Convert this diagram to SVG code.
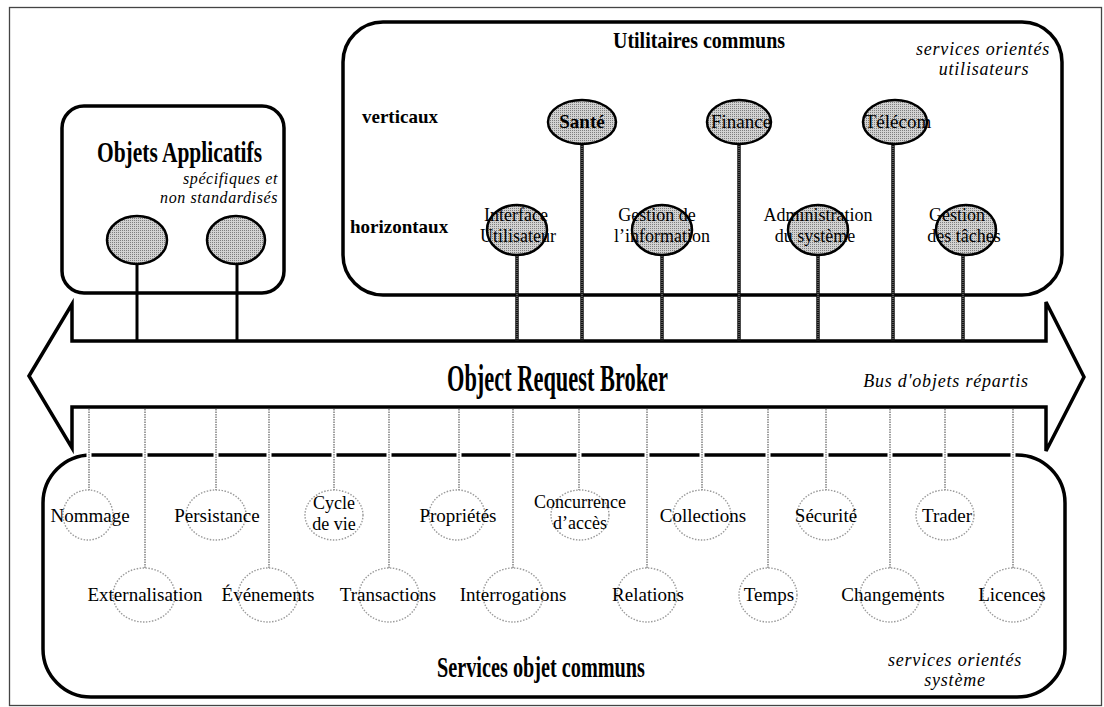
<svg xmlns="http://www.w3.org/2000/svg" width="1104" height="707" viewBox="0 0 1104 707">
  <defs>
    <!-- fine stipple used for the grey object bubbles -->
    <pattern id="halftone" patternUnits="userSpaceOnUse" width="2" height="2">
      <rect width="2" height="2" fill="#d2d2d2"/>
      <rect width="1" height="1" fill="#7e7e7e"/>
    </pattern>
  </defs>
  <style>
    .frame { fill: none; stroke: #444; stroke-width: 1.3; }
    .box { fill: none; stroke: #000; stroke-width: 3.5; }
    .bus { fill: #fff; stroke: #000; stroke-width: 3.5; stroke-linejoin: miter; }
    .title { font-family: "Liberation Serif", serif; font-weight: bold; fill: #000; }
    .it { font-family: "Liberation Serif", serif; font-style: italic; font-size: 18px; letter-spacing: 0.8px; fill: #000; }
    .it-sm { font-family: "Liberation Serif", serif; font-style: italic; font-size: 16px; letter-spacing: 0.6px; fill: #000; }
    .side { font-family: "Liberation Serif", serif; font-weight: bold; font-size: 19px; fill: #000; }
    .lbl { font-family: "Liberation Serif", serif; font-size: 19px; text-anchor: middle; fill: #000; }
    .lbl2 { font-family: "Liberation Serif", serif; font-size: 18px; text-anchor: middle; fill: #000; }
    .hv { fill: url(#halftone); stroke: #000; stroke-width: 2.5; }
    .sv { fill: #fff; stroke: #9a9a9a; stroke-width: 1.4; stroke-dasharray: 1.5 1.5; }
    .stem { stroke: #111; stroke-width: 3.5; }
    .stem-core { stroke: #9a9a9a; stroke-width: 1; stroke-dasharray: 1 1; }
    .solid { stroke: #000; stroke-width: 3; }
    .halo { stroke: #fff; stroke-width: 5; }
    .dotted { stroke: #a0a0a0; stroke-width: 2; stroke-dasharray: 1.5 1; }
  </style>

  <rect class="frame" x="9.5" y="7.5" width="1092" height="698"/>

  <!-- containers -->
  <g id="objets-applicatifs">
    <rect class="box" x="62" y="106" width="222" height="187" rx="22"/>
    <text class="title" x="97" y="162" font-size="30" textLength="165" lengthAdjust="spacingAndGlyphs">Objets Applicatifs</text>
    <text class="it-sm" x="278" y="184" text-anchor="end">spécifiques et</text>
    <text class="it-sm" x="278" y="203" text-anchor="end">non standardisés</text>
  </g>

  <g id="utilitaires-communs">
    <rect class="box" x="343" y="22" width="719" height="273" rx="40"/>
    <text class="title" x="613" y="48" font-size="24" textLength="172" lengthAdjust="spacingAndGlyphs">Utilitaires communs</text>
    <text class="it" x="983" y="55" text-anchor="middle">services orientés</text>
    <text class="it" x="984" y="75" text-anchor="middle">utilisateurs</text>
    <text class="side" x="362" y="123">verticaux</text>
    <text class="side" x="350" y="233">horizontaux</text>
  </g>

  <g id="services-objet-communs">
    <rect class="box" x="43" y="455" width="1022" height="242" rx="48"/>
    <text class="title" x="437" y="677" font-size="30" textLength="208" lengthAdjust="spacingAndGlyphs">Services objet communs</text>
    <text class="it" x="955" y="666" text-anchor="middle">services orientés</text>
    <text class="it" x="955" y="686" text-anchor="middle">système</text>
  </g>

  <g id="object-request-broker">
    <path class="bus" d="M29,376 L72,304 L72,341 L1046,341 L1046,302 L1084,377 L1046,451 L1046,407 L72,407 L72,448 Z"/>
    <text class="title" x="447" y="391" font-size="38" textLength="221" lengthAdjust="spacingAndGlyphs">Object Request Broker</text>
    <text class="it" x="946" y="387" text-anchor="middle">Bus d'objets répartis</text>
  </g>

  <!-- connectors to the bus -->
  <g id="connectors">
    <!-- application objects -->
    <line class="solid" x1="137" y1="240" x2="137" y2="341"/>
    <line class="solid" x1="237" y1="240" x2="237" y2="341"/>
    <!-- vertical and horizontal facilities -->
    <g>
      <line class="stem" x1="582" y1="122" x2="582" y2="341"/>
      <line class="stem" x1="739" y1="122" x2="739" y2="341"/>
      <line class="stem" x1="893" y1="122" x2="893" y2="341"/>
      <line class="stem" x1="517" y1="230" x2="517" y2="341"/>
      <line class="stem" x1="662" y1="230" x2="662" y2="341"/>
      <line class="stem" x1="818" y1="230" x2="818" y2="341"/>
      <line class="stem" x1="963" y1="230" x2="963" y2="341"/>
      <line class="stem-core" x1="582" y1="122" x2="582" y2="340"/>
      <line class="stem-core" x1="739" y1="122" x2="739" y2="340"/>
      <line class="stem-core" x1="893" y1="122" x2="893" y2="340"/>
      <line class="stem-core" x1="517" y1="230" x2="517" y2="340"/>
      <line class="stem-core" x1="662" y1="230" x2="662" y2="340"/>
      <line class="stem-core" x1="818" y1="230" x2="818" y2="340"/>
      <line class="stem-core" x1="963" y1="230" x2="963" y2="340"/>
    </g>
    <!-- object services: white halo breaks the box outline -->
    <g class="halo">
      <line x1="89" y1="409" x2="89" y2="515"/>
      <line x1="216" y1="409" x2="216" y2="515"/>
      <line x1="334" y1="409" x2="334" y2="515"/>
      <line x1="459" y1="409" x2="459" y2="515"/>
      <line x1="579" y1="409" x2="579" y2="515"/>
      <line x1="702" y1="409" x2="702" y2="515"/>
      <line x1="826" y1="409" x2="826" y2="515"/>
      <line x1="945" y1="409" x2="945" y2="515"/>
      <line x1="145" y1="409" x2="145" y2="595"/>
      <line x1="269" y1="409" x2="269" y2="595"/>
      <line x1="389" y1="409" x2="389" y2="595"/>
      <line x1="513" y1="409" x2="513" y2="595"/>
      <line x1="647" y1="409" x2="647" y2="595"/>
      <line x1="768" y1="409" x2="768" y2="595"/>
      <line x1="890" y1="409" x2="890" y2="595"/>
      <line x1="1013" y1="409" x2="1013" y2="595"/>
    </g>
    <g class="dotted">
      <line x1="89" y1="409" x2="89" y2="515"/>
      <line x1="216" y1="409" x2="216" y2="515"/>
      <line x1="334" y1="409" x2="334" y2="515"/>
      <line x1="459" y1="409" x2="459" y2="515"/>
      <line x1="579" y1="409" x2="579" y2="515"/>
      <line x1="702" y1="409" x2="702" y2="515"/>
      <line x1="826" y1="409" x2="826" y2="515"/>
      <line x1="945" y1="409" x2="945" y2="515"/>
      <line x1="145" y1="409" x2="145" y2="595"/>
      <line x1="269" y1="409" x2="269" y2="595"/>
      <line x1="389" y1="409" x2="389" y2="595"/>
      <line x1="513" y1="409" x2="513" y2="595"/>
      <line x1="647" y1="409" x2="647" y2="595"/>
      <line x1="768" y1="409" x2="768" y2="595"/>
      <line x1="890" y1="409" x2="890" y2="595"/>
      <line x1="1013" y1="409" x2="1013" y2="595"/>
    </g>
  </g>

  <!-- application objects -->
  <g id="app-object-1"><ellipse class="hv" cx="137" cy="240" rx="30" ry="24"/></g>
  <g id="app-object-2"><ellipse class="hv" cx="236" cy="240" rx="29" ry="24"/></g>

  <!-- vertical facilities -->
  <g id="sante"><ellipse class="hv" cx="582" cy="122" rx="34" ry="22"/><text class="lbl" x="582" y="128" font-weight="bold">Santé</text></g>
  <g id="finance"><ellipse class="hv" cx="739" cy="122" rx="32" ry="22"/><text class="lbl" x="741" y="128">Finance</text></g>
  <g id="telecom"><ellipse class="hv" cx="895" cy="122" rx="32" ry="22"/><text class="lbl" x="898" y="128">Télécom</text></g>

  <!-- horizontal facilities -->
  <g id="interface-utilisateur"><ellipse class="hv" cx="517" cy="230" rx="30" ry="25"/><text class="lbl2" x="516" y="221">Interface</text><text class="lbl2" x="518" y="242">Utilisateur</text></g>
  <g id="gestion-information"><ellipse class="hv" cx="662" cy="230" rx="30" ry="25"/><text class="lbl2" x="657" y="221">Gestion de</text><text class="lbl2" x="662" y="242">l’information</text></g>
  <g id="administration-systeme"><ellipse class="hv" cx="818" cy="230" rx="30" ry="25"/><text class="lbl2" x="818" y="221">Administration</text><text class="lbl2" x="815" y="242">du système</text></g>
  <g id="gestion-taches"><ellipse class="hv" cx="966" cy="230" rx="30" ry="25"/><text class="lbl2" x="957" y="221">Gestion</text><text class="lbl2" x="964" y="242">des tâches</text></g>

  <!-- object services, upper row -->
  <g id="nommage"><ellipse class="sv" cx="88" cy="515" rx="25" ry="25"/><text class="lbl" x="90" y="522">Nommage</text></g>
  <g id="persistance"><ellipse class="sv" cx="216" cy="515" rx="30" ry="25"/><text class="lbl" x="217" y="522">Persistance</text></g>
  <g id="cycle-de-vie"><ellipse class="sv" cx="334" cy="515" rx="29" ry="25"/><text class="lbl2" x="334" y="509">Cycle</text><text class="lbl2" x="334" y="530">de vie</text></g>
  <g id="proprietes"><ellipse class="sv" cx="457" cy="515" rx="28" ry="25"/><text class="lbl" x="458" y="522">Propriétés</text></g>
  <g id="concurrence"><ellipse class="sv" cx="580" cy="515" rx="29" ry="25"/><text class="lbl2" x="580" y="508">Concurrence</text><text class="lbl2" x="580" y="529">d’accès</text></g>
  <g id="collections"><ellipse class="sv" cx="702" cy="515" rx="29" ry="25"/><text class="lbl" x="703" y="522">Collections</text></g>
  <g id="securite"><ellipse class="sv" cx="826" cy="515" rx="29" ry="25"/><text class="lbl" x="826" y="522">Sécurité</text></g>
  <g id="trader"><ellipse class="sv" cx="945" cy="515" rx="29" ry="25"/><text class="lbl" x="947" y="522">Trader</text></g>

  <!-- object services, lower row -->
  <g id="externalisation"><ellipse class="sv" cx="144" cy="595" rx="31" ry="27"/><text class="lbl" x="145" y="601">Externalisation</text></g>
  <g id="evenements"><ellipse class="sv" cx="268" cy="595" rx="30" ry="27"/><text class="lbl" x="268" y="601">Événements</text></g>
  <g id="transactions"><ellipse class="sv" cx="389" cy="595" rx="30" ry="27"/><text class="lbl" x="388" y="601">Transactions</text></g>
  <g id="interrogations"><ellipse class="sv" cx="513" cy="595" rx="30" ry="27"/><text class="lbl" x="513" y="601">Interrogations</text></g>
  <g id="relations"><ellipse class="sv" cx="647" cy="595" rx="30" ry="27"/><text class="lbl" x="648" y="601">Relations</text></g>
  <g id="temps"><ellipse class="sv" cx="768" cy="595" rx="29" ry="27"/><text class="lbl" x="769" y="601">Temps</text></g>
  <g id="changements"><ellipse class="sv" cx="890" cy="595" rx="30" ry="27"/><text class="lbl" x="893" y="601">Changements</text></g>
  <g id="licences"><ellipse class="sv" cx="1013" cy="595" rx="30" ry="27"/><text class="lbl" x="1012" y="601">Licences</text></g>
</svg>
